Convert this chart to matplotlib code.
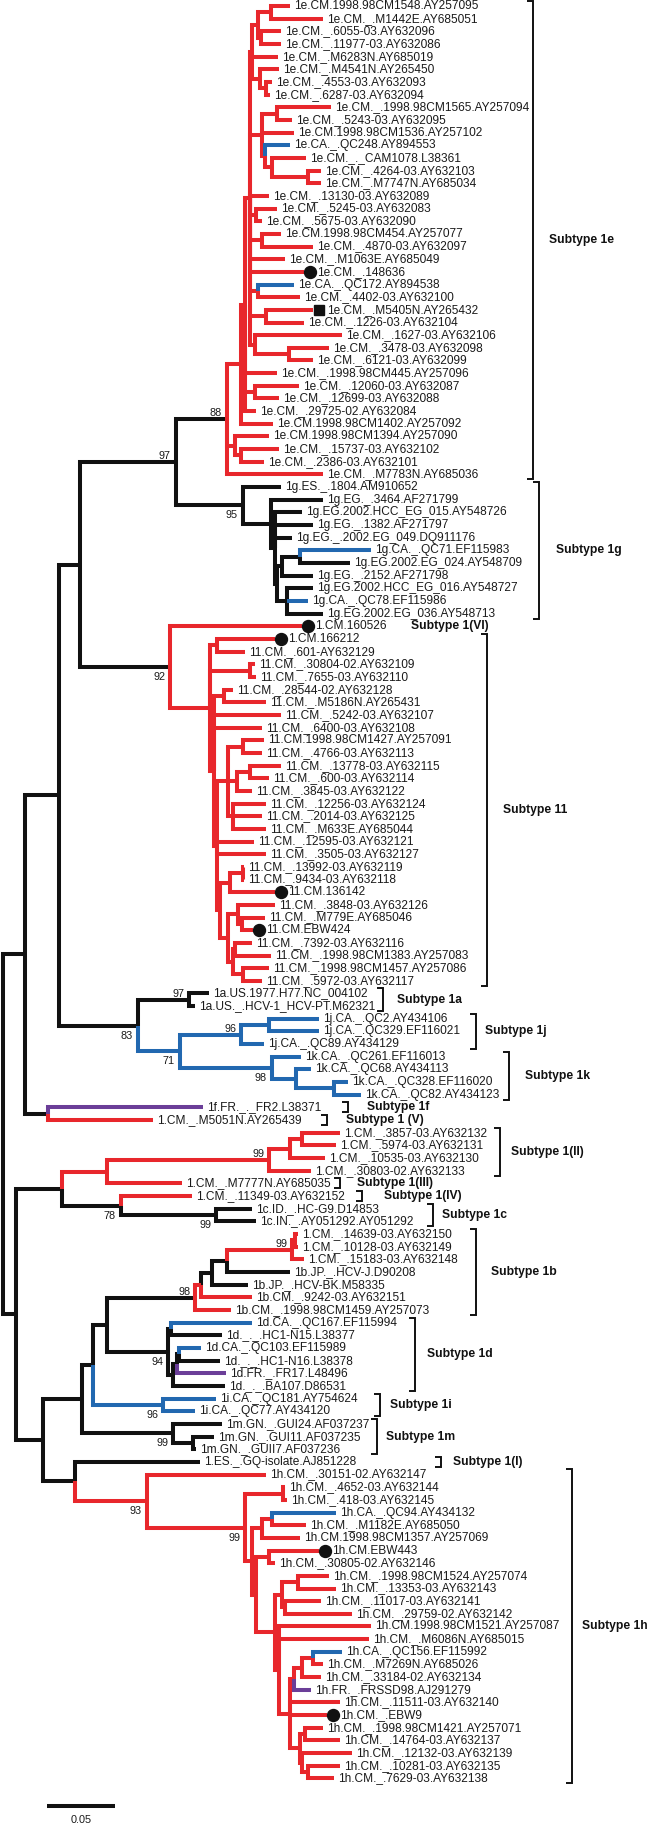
import matplotlib
matplotlib.use("Agg")
import matplotlib.pyplot as plt
import matplotlib.transforms as mtransforms

# ------------------------------------------------------------------
# DATA: tree pieces in Newick (branch lengths in substitutions/site)
# ------------------------------------------------------------------
E_A = "(1e.CM.1998.98CM1548.AY257095:0.0140,1e.CM._.M1442E.AY685051:0.0382)"
E_C = "(1e.CM._.6055-03.AY632096:0.0147,1e.CM._.11977-03.AY632086:0.0147)"
E_G1 = ("((" + E_A + ":0.0096," + E_C + ":0.0022):0.0044,1e.CM._.M6283N.AY685019:0.0191,"
        "(1e.CM._.M4541N.AY265450:0.0140,(1e.CM._.4553-03.AY632093:0.0044,1e.CM._.6287-03.AY632094:0.0029):0.0044):0.0059)")
E_G2 = ("((1e.CM._.1998.98CM1565.AY257094:0.0397,1e.CM._.5243-03.AY632095:0.0110):0.0110,"
        "1e.CM.1998.98CM1536.AY257102:0.0235,(1e.CA._.QC248.AY894553:0.0184,(1e.CM._._CAM1078.L38361:0.0250,"
        "(1e.CM._.4264-03.AY632103:0.0096,1e.CM._.M7747N.AY685034:0.0096):0.0265):0.0051):0.0022)")
E_E3 = ("(" + E_G1 + ":0.0015," + E_G2 + ":0.0088,1e.CM._.13130-03.AY632089:0.0140,"
        "(1e.CM._.5245-03.AY632083:0.0154,1e.CM._.5675-03.AY632090:0.0044):0.0044,"
        "(1e.CM.1998.98CM454.AY257077:0.0140,1e.CM._.4870-03.AY632097:0.0375):0.0088,"
        "1e.CM._.M1063E.AY685049:0.0257,1e.CM._.148636:0.0397,"
        "(1e.CA._.QC172.AY894538:0.0265,1e.CM._.4402-03.AY632100:0.0309):0.0059,"
        "(1e.CM._.M5405N.AY265432:0.0346,1e.CM._.1226-03.AY632104:0.0279):0.0118,"
        "(1e.CM._.1627-03.AY632106:0.0640,(1e.CM._.3478-03.AY632098:0.0294,1e.CM._.6121-03.AY632099:0.0176):0.0250):0.0037)")
E_E2 = ("(" + E_E3 + ":0.0037,1e.CM._.1998.98CM445.AY257096:0.0235,"
        "(1e.CM._.12060-03.AY632087:0.0324,1e.CM._.12699-03.AY632088:0.0176):0.0074,1e.CM._.29725-02.AY632084:0.0081)")
CLADE_1E = ("((" + E_E2 + ":0.0029,1e.CM.1998.98CM1402.AY257092:0.0235):0.0103,"
            "(1e.CM.1998.98CM1394.AY257090:0.0250,(1e.CM._.15737-03.AY632102:0.0279,1e.CM._.2386-03.AY632101:0.0169):0.0044):0.0059,"
            "1e.CM._.M7783N.AY685036:0.0706)E0")

CLADE_1G = ("(1g.ES._.1804.AM910652:0.0279,(1g.EG._.3464.AF271799:0.0382,(1g.EG.2002.HCC_EG_015.AY548726:0.0199,"
            "1g.EG._.1382.AF271797:0.0279,1g.EG._.2002.EG_049.DQ911176:0.0125,"
            "(((1g.CA._.QC71.EF115983:0.0522,1g.EG.2002.EG_024.AY548709:0.0368):0.0132,1g.EG._.2152.AF271798:0.0228):0.0037,"
            "(1g.EG.2002.HCC_EG_016.AY548727:0.0191,1g.CA._.QC78.EF115986:0.0154,1g.EG.2002.EG_036.AY548713:0.0265):0.0074)"
            ":0.0015):0.0029):0.0206)G0")

C11_X3 = ("((11.CM.1998.98CM1427.AY257091:0.0154,11.CM._.4766-03.AY632113:0.0140):0.0110,"
          "((11.CM._.13778-03.AY632115:0.0228,11.CM._.600-03.AY632114:0.0140):0.0096,11.CM._.3845-03.AY632122:0.0110):0.0066,"
          "(11.CM._.12256-03.AY632124:0.0243,11.CM._.2014-03.AY632125:0.0213,11.CM._.M633E.AY685044:0.0243):0.0037)")
C11_X4 = ("(((11.CM._.13992-03.AY632119:0.0007,11.CM._.9434-03.AY632118:0.0007):0.0096,11.CM.136142:0.0331):0.0074,"
          "((11.CM._.3848-03.AY632126:0.0272,(11.CM._.M779E.AY685046:0.0169,11.CM.EBW424:0.0081):0.0029):0.0074,"
          "((11.CM._.7392-03.AY632116:0.0125,11.CM._.1998.98CM1383.AY257083:0.0265):0.0015,"
          "(11.CM._.1998.98CM1457.AY257086:0.0191,11.CM._.5972-03.AY632117:0.0140):0.0074):0.0037):0.0059)")
CLADE_11 = ("((1.CM.166212:0.0426,11.CM._.601-AY632129:0.0206):0.0051,"
            "(11.CM._.30804-02.AY632109:0.0037,11.CM._.7655-03.AY632110:0.0044):0.0294,"
            "((11.CM._.28544-02.AY632128:0.0066,11.CM._.M5186N.AY265431:0.0309):0.0074,11.CM._.5242-03.AY632107:0.0493,"
            "11.CM._.6400-03.AY632108:0.0353,(" + C11_X3 + ":0.0081,11.CM._.12595-03.AY632121:0.0272,"
            "11.CM._.3505-03.AY632127:0.0360," + C11_X4 + ":0.0022):0.0022):0.0029)E11")

CLADE_1A = "(1a.US.1977.H77.NC_004102:0.0147,1a.US._.HCV-1_HCV-PT.M62321:0.0044)A1a"
CLADE_1J = "((1j.CA._.QC2.AY434106:0.0368,1j.CA._.QC329.EF116021:0.0368):0.0206,1j.CA._.QC89.AY434129:0.0169)J"
CLADE_1K = ("(1k.CA._.QC261.EF116013:0.0213,(1k.CA._.QC68.AY434113:0.0110,"
            "(1k.CA._.QC328.EF116020:0.0103,1k.CA._.QC82.AY434123:0.0199):0.0279):0.0176)K")
NODE_83 = "(" + CLADE_1A + ":0.0375,(" + CLADE_1J + ":0.0449," + CLADE_1K + ":0.0676)N180:0.0309)N83"
NODE_48 = "(1f.FR._._FR2.L38371:0.1140,1.CM._.M5051N.AY265439:0.0772)N48"

UPPER = ("((((" + CLADE_1E + ":0.0375," + CLADE_1G + ":0.0493)N176:0.0706,(1.CM.160526:0.0971,"
         + CLADE_11 + ":0.0294)T0:0.0662)N80:0.0154," + NODE_83 + ":0.0581)N59:0.0250," + NODE_48 + ":0.0169)N25")

CLADE_1II = ("(((1.CM._.3857-03.AY632132:0.0279,1.CM._.5974-03.AY632131:0.0250):0.0088,"
             "1.CM._.10535-03.AY632130:0.0257):0.0154,1.CM._.30803-02.AY632133:0.0309)P269")
NODE_R107 = "(" + CLADE_1II + ":0.1191,1.CM._.M7777N.AY685035:0.0551)R107"
CLADE_1C = "(1c.ID._.HC-G9.D14853:0.0265,1c.IN._.AY051292.AY051292:0.0294)C216"
NODE_B121 = "(1.CM._.11349-03.AY632152:0.0522," + CLADE_1C + ":0.0699)B121"
NODE_62 = "(" + NODE_R107 + ":0.0331," + NODE_B121 + ":0.0434)N62"

CLADE_1B = ("((((((1.CM._.14639-03.AY632150:0.0022,1.CM._.10128-03.AY632149:0.0022):0.0022,"
            "1.CM._.15183-03.AY632148:0.0088)B292:0.0478,1b.JP._.HCV-J.D90208:0.0463)B227:0.0110,"
            "1b.JP._.HCV-BK.M58335:0.0265)B212:0.0081,1b.CM._.9242-03.AY632151:0.0375)B201:0.0044,"
            "1b.CM._.1998.98CM1459.AY257073:0.0265)B195")
CLADE_1D = ("((1d.CA._.QC167.EF115994:0.0596,1d._._.HC1-N15.L38377:0.0375):0.0022,"
            "(((1d.CA._.QC103.EF115989:0.0162,1d._._.HC1-N16.L38378:0.0301):0.0015,1d.FR._.FR17.L48496:0.0360):0.0029,"
            "1d._._.BA107.D86531:0.0382):0.0037)D168")
CLADE_1I = "(1i.CA._.QC181.AY754624:0.0390,1i.CA._.QC77.AY434120:0.0235)I163"
CLADE_1M = "(1m.GN._.GUI24.AF037237:0.0360,(1m.GN._.GUI11.AF037235:0.0154,1m.GN._.GUII7.AF037236:0.0022):0.0147)M173"

H_17 = ("((((1h.CA._.QC156.EF115992:0.0213,1h.CM._.M7269N.AY685026:0.0074):0.0081,1h.CM._.33184-02.AY632134:0.0140):0.0059,"
        "1h.FR._.FRSSD98.AJ291279:0.0125):0.0029,1h.CM._.11511-03.AY632140:0.0368,1h.CM._.EBW9:0.0272,"
        "((1h.CM._.1998.98CM1421.AY257071:0.0132,1h.CM._.14764-03.AY632137:0.0257):0.0037,"
        "(1h.CM._.12132-03.AY632139:0.0368,(1h.CM._.10281-03.AY632135:0.0235,1h.CM._.7629-03.AY632138:0.0191):0.0044):0.0015):0.0074)")
H_21 = ("(((1h.CM._.1998.98CM1524.AY257074:0.0228,1h.CM._.13353-03.AY632143:0.0279):0.0118,"
        "(1h.CM._.11017-03.AY632141:0.0265,1h.CM._.29759-02.AY632142:0.0493):0.0022):0.0051,"
        "(1h.CM.1998.98CM1521.AY257087:0.0676,1h.CM._.M6086N.AY685015:0.0662," + H_17 + ":0.0081):0.0029)")
H_2 = ("((1h.CM._.4652-03.AY632144:0.0015,1h.CM._.418-03.AY632145:0.0029):0.0279,"
       "(((1h.CA._.QC94.AY434132:0.0471,1h.CM._.M1182E.AY685050:0.0250):0.0074,1h.CM.1998.98CM1357.AY257069:0.0279):0.0074,"
       "((1h.CM.EBW443:0.0368,1h.CM._.30805-02.AY632146:0.0044):0.0096," + H_21 + ":0.0140):0.0029):0.0051)H2")
CLADE_1H = "(1h.CM._.30151-02.AY632147:0.0875," + H_2 + ":0.0721)H147"

LOWER = ("(" + NODE_62 + ":0.0338,((((" + CLADE_1B + ":0.0647," + CLADE_1D + ":0.0449)N107:0.0103,"
         + CLADE_1I + ":0.0515)N93:0.0081," + CLADE_1M + ":0.0669)N82:0.0287,(1.ES._.GQ-isolate.AJ851228:0.0919,"
         + CLADE_1H + ":0.0529)N75:0.0235)N43:0.0199)N16")

TREE = "(" + UPPER + ":0.0162," + LOWER + ":0.0096)ROOT;"

SUPPORT = {"E0": 88, "N176": 97, "G0": 95, "T0": 92, "N83": 83, "A1a": 97, "J": 96,
           "N180": 71, "K": 98, "P269": 99, "B121": 78, "C216": 99, "B292": 99,
           "B195": 98, "D168": 94, "I163": 96, "M173": 99, "H147": 93, "H2": 99}

DOT_TIPS = ["1e.CM._.148636", "1.CM.160526", "1.CM.166212", "11.CM.136142",
            "11.CM.EBW424", "1h.CM.EBW443", "1h.CM._.EBW9"]
SQUARE_TIPS = ["1e.CM._.M5405N.AY265432"]

CLADE_COLOR = {"E0": "red", "T0": "red", "N180": "blue", "R107": "red",
               "B292": "red", "I163": "blue", "H147": "red"}
BRANCH_COLOR = {"N180": "blue", "R107": "red", "B201": "red", "B292": "red",
                "I163": "blue", "H147": "red",
                "1e.CA._.QC248.AY894553": "blue", "1e.CA._.QC172.AY894538": "blue",
                "1g.CA._.QC71.EF115983": "blue", "1g.CA._.QC78.EF115986": "blue",
                "1f.FR._._FR2.L38371": "purple", "1.CM._.M5051N.AY265439": "red",
                "1.CM._.11349-03.AY632152": "red", "1b.CM._.9242-03.AY632151": "red",
                "1b.CM._.1998.98CM1459.AY257073": "red", "1d.CA._.QC167.EF115994": "blue",
                "1d.CA._.QC103.EF115989": "blue", "1d.FR._.FR17.L48496": "purple",
                "1h.CA._.QC94.AY434132": "blue", "1h.CA._.QC156.EF115992": "blue",
                "1h.FR._.FRSSD98.AJ291279": "purple"}

SUBTYPE_NAMES = ["Subtype 1e", "Subtype 1g", "Subtype 1(VI)", "Subtype 11", "Subtype 1a",
                 "Subtype 1j", "Subtype 1k", "Subtype 1f", "Subtype 1 (V)", "Subtype 1(II)",
                 "Subtype 1(III)", "Subtype 1(IV)", "Subtype 1c", "Subtype 1b", "Subtype 1d",
                 "Subtype 1i", "Subtype 1m", "Subtype 1(I)", "Subtype 1h"]
SUBTYPE_FIRST = ["1e.CM.1998.98CM1548.AY257095", "1g.ES._.1804.AM910652", "1.CM.160526",
                 "1.CM.166212", "1a.US.1977.H77.NC_004102", "1j.CA._.QC2.AY434106",
                 "1k.CA._.QC261.EF116013", "1f.FR._._FR2.L38371", "1.CM._.M5051N.AY265439",
                 "1.CM._.3857-03.AY632132", "1.CM._.M7777N.AY685035", "1.CM._.11349-03.AY632152",
                 "1c.ID._.HC-G9.D14853", "1.CM._.14639-03.AY632150", "1d.CA._.QC167.EF115994",
                 "1i.CA._.QC181.AY754624", "1m.GN._.GUI24.AF037237", "1.ES._.GQ-isolate.AJ851228",
                 "1h.CM._.30151-02.AY632147"]
SUBTYPE_LAST = ["1e.CM._.M7783N.AY685036", "1g.EG.2002.EG_036.AY548713", "1.CM.160526",
                "11.CM._.5972-03.AY632117", "1a.US._.HCV-1_HCV-PT.M62321", "1j.CA._.QC89.AY434129",
                "1k.CA._.QC82.AY434123", "1f.FR._._FR2.L38371", "1.CM._.M5051N.AY265439",
                "1.CM._.30803-02.AY632133", "1.CM._.M7777N.AY685035", "1.CM._.11349-03.AY632152",
                "1c.IN._.AY051292.AY051292", "1b.CM._.1998.98CM1459.AY257073", "1d._._.BA107.D86531",
                "1i.CA._.QC77.AY434120", "1m.GN._.GUII7.AF037236", "1.ES._.GQ-isolate.AJ851228",
                "1h.CM._.7629-03.AY632138"]
SCALE_BAR = 0.05

# ------------------------------------------------------------------
# LAYOUT / STYLE
# ------------------------------------------------------------------
W, H = 658, 1826
X_PX0, PX_PER_UNIT = 3.0, 1360.0
Y_PX0, PX_PER_LEAF = 6.0, 12.66
COLORS = {"black": "#111111", "red": "#E8272C", "blue": "#2268B0", "purple": "#6B3E98"}
LW = 2.9
LEAF_FS = 8.6
SUPPORT_FS = 7.8
SUBTYPE_FS = 8.7
TEXT_COLOR = "#1a1a1a"
SUPPORT_ABOVE = {"E0", "N176", "A1a", "J", "P269", "B292", "B195"}
BRACKET_PX = [533, 539, None, 487, 383, 476, 509, 348, 327, 500, 340, 362, 433, 476, 415, 380, 377, 441, 572]
LABEL_PX = [549, 556, 411, 503, 397, 485, 525, 367, 346, 511, 357, 384, 442, 491, 427, 390, 386, 453, 582]
FONT = ["Liberation Sans", "DejaVu Sans"]
plt.rcParams["font.family"] = FONT


class Node:
    def __init__(self):
        self.name = ""
        self.length = 0.0
        self.children = []
        self.parent = None


def parse_newick(s):
    s = s.strip().rstrip(";")
    pos = 0

    def parse_node():
        nonlocal pos
        node = Node()
        if s[pos] == "(":
            pos += 1
            while True:
                child = parse_node()
                child.parent = node
                node.children.append(child)
                if s[pos] == ",":
                    pos += 1
                    continue
                pos += 1  # ')'
                break
        start = pos
        while pos < len(s) and s[pos] not in ":,()":
            pos += 1
        node.name = s[start:pos]
        if pos < len(s) and s[pos] == ":":
            pos += 1
            start = pos
            while pos < len(s) and s[pos] not in ",()":
                pos += 1
            node.length = float(s[start:pos])
        return node

    return parse_node()


root = parse_newick(TREE)
leaves = []
all_nodes = []


def layout(node, depth):
    node.x = depth + node.length
    all_nodes.append(node)
    if not node.children:
        node.y = len(leaves)
        leaves.append(node)
    else:
        for c in node.children:
            layout(c, node.x)
        node.y = (node.children[0].y + node.children[-1].y) / 2.0


layout(root, 0.0)
by_name = {n.name: n for n in all_nodes if n.name}


def branch_color(n):
    if n.name in BRANCH_COLOR:
        return BRANCH_COLOR[n.name]
    a = n.parent
    while a is not None:
        if a.name in CLADE_COLOR:
            return CLADE_COLOR[a.name]
        a = a.parent
    return "black"


fig = plt.figure(figsize=(W / 100, H / 100), dpi=100)
ax = fig.add_axes([0, 0, 1, 1])
ax.set_xlim(-X_PX0 / PX_PER_UNIT, (W - X_PX0) / PX_PER_UNIT)
ax.set_ylim((H - Y_PX0) / PX_PER_LEAF, -Y_PX0 / PX_PER_LEAF)
ax.axis("off")


def px_x(px):
    return (px - X_PX0) / PX_PER_UNIT


def px_y(py):
    return (py - Y_PX0) / PX_PER_LEAF


# branches (elbows), black first so coloured ones sit on top
order = {"black": 0, "blue": 1, "purple": 1, "red": 1}
branches = [n for n in all_nodes if n.parent is not None]
branches.sort(key=lambda n: order[branch_color(n)])
for n in branches:
    p = n.parent
    ax.plot([p.x, p.x, n.x], [p.y, n.y, n.y], color=COLORS[branch_color(n)], lw=LW,
            solid_joinstyle="miter", solid_capstyle="butt", zorder=2)


def off(dx, dy=0):
    return mtransforms.offset_copy(ax.transData, fig=fig, x=dx, y=dy, units="dots")


# tip labels and markers
for lf in leaves:
    dx = 4
    if lf.name in DOT_TIPS:
        ax.plot([lf.x], [lf.y], "o", ms=8.6, color="#111111", transform=off(6), zorder=3)
        dx = 13
    elif lf.name in SQUARE_TIPS:
        ax.plot([lf.x], [lf.y], "s", ms=7.0, color="#111111", transform=off(6), zorder=3)
        dx = 14
    ax.text(lf.x, lf.y, lf.name, fontsize=LEAF_FS, ha="left", va="center",
            color=TEXT_COLOR, transform=off(dx))

# support values
for name, val in SUPPORT.items():
    n = by_name[name]
    tr = off(-5, 3) if name in SUPPORT_ABOVE else off(-5, -13)
    ax.text(n.x, n.y, str(val), fontsize=SUPPORT_FS, ha="right", va="baseline",
            color=TEXT_COLOR, transform=tr)

# subtype brackets and labels
for name, first, last, bx, lx in zip(SUBTYPE_NAMES, SUBTYPE_FIRST, SUBTYPE_LAST, BRACKET_PX, LABEL_PX):
    y0 = by_name[first].y - 0.4
    y1 = by_name[last].y + 0.4
    if bx is not None:
        ax.plot([px_x(bx - 6), px_x(bx), px_x(bx), px_x(bx - 6)], [y0, y0, y1, y1],
                color="#111111", lw=1.4, solid_joinstyle="miter", solid_capstyle="butt")
    ax.text(px_x(lx), (by_name[first].y + by_name[last].y) / 2.0, name, fontsize=SUBTYPE_FS,
            fontweight="bold", ha="left", va="center", color="#111111")

# scale bar
sx0 = px_x(47)
sy = px_y(1806)
ax.plot([sx0, sx0 + SCALE_BAR], [sy, sy], color="#111111", lw=LW, solid_capstyle="butt")
ax.text(sx0 + SCALE_BAR / 2, px_y(1820), "0.05", fontsize=SUPPORT_FS, ha="center", va="center",
        color=TEXT_COLOR)

fig.savefig("out.png", dpi=100)
